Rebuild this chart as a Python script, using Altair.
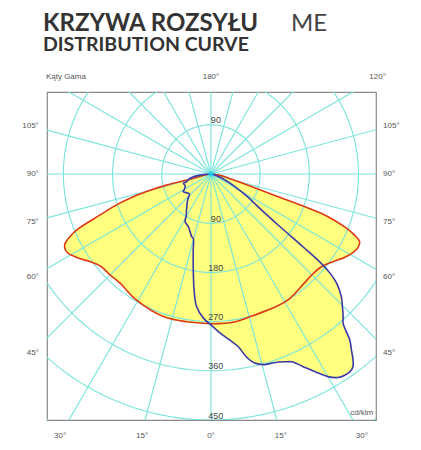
import math
import altair as alt
import pandas as pd

# ---- luminous intensity curves (gamma in degrees, intensity in cd/klm) ----
# C0-C180 plane (red)
red_right_gamma = [0, 9, 17, 24, 31.5, 40, 45, 50, 54, 58, 61, 63.5, 65.5, 67, 68.2, 69.5, 70.3, 70.8, 71.3, 72.5, 74.5, 78, 82, 86, 90]
red_right_cd    = [274, 274, 270, 270, 270, 263, 261, 264, 274, 288, 297, 301, 299, 285, 267, 240, 217, 181, 130, 85, 50, 30, 15, 5, 0]
red_left_gamma  = [0, 9.3, 18.5, 30.5, 39.8, 45, 50, 54, 57, 59.2, 61, 63, 64.5, 66, 67.4, 69.7, 72, 73.7, 75, 76, 76.3, 80, 85, 90]
red_left_cd     = [274, 274, 275, 268, 260, 261, 263, 273, 285, 293, 299, 300, 296, 283, 266, 217, 180, 148, 115, 84, 33, 15, 5, 0]
# C90-C270 plane (blue)
blue_right_gamma = [0, 3, 6.5, 9, 11, 13, 15.6, 18.5, 21.8, 23.3, 25.5, 27.7, 30, 32, 33.5, 35.1, 36.4, 37.4, 38.6, 39.9, 41.5, 42.8, 45, 46.8, 49, 50.2, 51, 51.6, 52.7, 54.9, 56.2, 58, 60, 63, 66.8, 72, 80, 90]
blue_right_cd    = [276, 290, 306, 320, 341, 355, 362, 364, 370, 374, 390, 408, 428, 439, 442, 442, 438, 428, 412, 396, 365, 356, 340, 327, 305, 284, 259, 218, 157, 108, 95, 80, 63, 45, 27, 12, 4, 0]
blue_left_gamma  = [0, 3, 6.2, 8.3, 10.4, 13.1, 15.4, 17.1, 20, 23.3, 28.6, 30.3, 35.3, 41.9, 46.9, 49.6, 58, 59.4, 65, 71.4, 72.4, 78.4, 84, 90]
blue_left_cd     = [276, 264, 244, 214, 179, 143, 122, 120, 112, 105, 99, 90, 77, 64, 54, 54.5, 60, 57, 52, 53, 47, 39, 20, 0]

# ---- grid ----
ring_values = [90, 180, 270, 360, 450, 540]
ray_angles = list(range(0, 360, 15))
ring_labels = ["90", "90", "180", "270", "360", "450"]
ring_label_y = [99, -82, -172, -262, -351, -443]

side_labels = ["105°", "90°", "75°", "60°", "45°"]
side_label_y = [88, 0, -88, -188, -327]
bottom_labels = ["30°", "15°", "0°", "15°", "30°"]
bottom_label_x = [-276, -126, 0, 128, 276]
top_labels = ["180°", "120°"]
top_label_x = [0, 305]

X_DOM = [-300, 302]
Y_DOM = [-450, 150]
W, H = 329, 328

GRID = "#78e4da"
FILL = "#ffff80"
RED = "#dd3a14"
BLUE = "#3b3aa6"
LABEL = "#555555"


def polar_rows(gammas, values, side, start):
    rows = []
    for k, (g, v) in enumerate(zip(gammas, values)):
        a = math.radians(g)
        rows.append({"x": side * v * math.sin(a), "y": -v * math.cos(a), "idx": start + k})
    return rows


def curve_df(rg, rc, lg, lc):
    rows = polar_rows(rg, rc, 1, 0)
    rows += polar_rows(list(reversed(lg)), list(reversed(lc)), -1, len(rows))
    return pd.DataFrame(rows)


red_df = curve_df(red_right_gamma, red_right_cd, red_left_gamma, red_left_cd)
blue_df = curve_df(blue_right_gamma, blue_right_cd, blue_left_gamma, blue_left_cd)

ring_rows = []
for r in ring_values:
    for k, deg in enumerate(range(0, 362, 2)):
        a = math.radians(deg)
        ring_rows.append({"ring": r, "idx": k, "x": r * math.sin(a), "y": r * math.cos(a)})
ring_df = pd.DataFrame(ring_rows)

ray_rows = []
for deg in ray_angles:
    a = math.radians(deg)
    ray_rows.append({"ray": deg, "idx": 0, "x": 0.0, "y": 0.0})
    ray_rows.append({"ray": deg, "idx": 1, "x": 620 * math.sin(a), "y": 620 * math.cos(a)})
ray_df = pd.DataFrame(ray_rows)

xs = alt.Scale(domain=X_DOM, nice=False, zero=False)
ys = alt.Scale(domain=Y_DOM, nice=False, zero=False)
X = alt.X("x:Q", scale=xs, axis=None)
Y = alt.Y("y:Q", scale=ys, axis=None)
O = alt.Order("idx:Q")

red_fill = alt.Chart(red_df).mark_line(fill=FILL, strokeWidth=0, interpolate="catmull-rom", clip=True).encode(X, Y, O)
blue_fill = alt.Chart(blue_df).mark_line(fill=FILL, strokeWidth=0, interpolate="catmull-rom", clip=True).encode(X, Y, O)

rings = alt.Chart(ring_df).mark_line(color=GRID, strokeWidth=1.1, clip=True).encode(X, Y, O, detail="ring:N")
rays = alt.Chart(ray_df).mark_line(color=GRID, strokeWidth=1.1, clip=True).encode(X, Y, O, detail="ray:N")

red_line = alt.Chart(red_df).mark_line(color=RED, strokeWidth=1.6, interpolate="catmull-rom", clip=True).encode(X, Y, O)
blue_line = alt.Chart(blue_df).mark_line(color=BLUE, strokeWidth=1.6, interpolate="catmull-rom", clip=True).encode(X, Y, O)

center = alt.Chart(pd.DataFrame({"x": [0], "y": [0]})).mark_point(filled=True, color="#1fd0f0", size=25, opacity=0.9).encode(X, Y)

ring_lab_df = pd.DataFrame({"x": [9] * len(ring_labels), "y": ring_label_y, "t": ring_labels})
ring_text = alt.Chart(ring_lab_df).mark_text(font="Liberation Sans", fontSize=9, color="#444444", baseline="middle").encode(X, Y, text="t:N")

left_df = pd.DataFrame({"x": [-315] * 5, "y": side_label_y, "t": side_labels})
right_df = pd.DataFrame({"x": [315] * 5, "y": side_label_y, "t": side_labels})
bottom_df = pd.DataFrame({"x": bottom_label_x, "y": [-479] * 5, "t": bottom_labels})
top_df = pd.DataFrame({"x": top_label_x, "y": [177] * 2, "t": top_labels})

tick_style = dict(font="Liberation Sans", fontSize=8, color=LABEL, baseline="middle")
left_text = alt.Chart(left_df).mark_text(align="right", **tick_style).encode(X, Y, text="t:N")
right_text = alt.Chart(right_df).mark_text(align="left", **tick_style).encode(X, Y, text="t:N")
bottom_text = alt.Chart(bottom_df).mark_text(align="center", **tick_style).encode(X, Y, text="t:N")
top_text = alt.Chart(top_df).mark_text(align="center", **tick_style).encode(X, Y, text="t:N")
kat_text = alt.Chart(pd.DataFrame({"x": [-302], "y": [177], "t": ["Kąty Gama"]})).mark_text(align="left", **tick_style).encode(X, Y, text="t:N")
unit_text = alt.Chart(pd.DataFrame({"x": [297], "y": [-437], "t": ["cd/klm"]})).mark_text(align="right", **tick_style).encode(X, Y, text="t:N")

title1 = alt.Chart(pd.DataFrame({"t": ["KRZYWA ROZSYŁU"]})).mark_text(font="Lato", fontWeight="bold", fontSize=24, color="#333333", align="left", baseline="alphabetic").encode(
    x=alt.value(-4), y=alt.value(-61), text="t:N")
title_me = alt.Chart(pd.DataFrame({"t": ["ME"]})).mark_text(font="Lato", fontWeight="normal", fontSize=24, color="#444444", align="left", baseline="alphabetic").encode(
    x=alt.value(244), y=alt.value(-61), text="t:N")
title2 = alt.Chart(pd.DataFrame({"t": ["DISTRIBUTION CURVE"]})).mark_text(font="Lato", fontWeight="bold", fontSize=19.5, color="#333333", align="left", baseline="alphabetic").encode(
    x=alt.value(-4), y=alt.value(-41), text="t:N")

chart = alt.layer(
    red_fill, blue_fill, rings, rays, red_line, blue_line, center,
    ring_text, left_text, right_text, bottom_text, top_text, kat_text, unit_text,
    title1, title_me, title2,
).properties(
    width=W, height=H,
    autosize=alt.AutoSizeParams(type="none"),
    padding={"left": 39, "top": 84, "right": 30, "bottom": 25},
    background="white",
).configure_view(stroke="#8a8a8a", strokeWidth=1.2)

chart.save("out.html", embed_options={"renderer": "svg", "actions": False})
